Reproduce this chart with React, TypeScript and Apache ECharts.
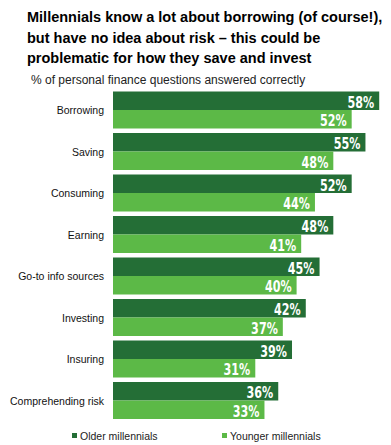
import React, { useEffect, useRef } from "react";
import * as echarts from "echarts";

const categories = [
  "Borrowing",
  "Saving",
  "Consuming",
  "Earning",
  "Go-to info sources",
  "Investing",
  "Insuring",
  "Comprehending risk",
];
const olderValues = [58, 55, 52, 48, 45, 42, 39, 36];
const youngerValues = [52, 48, 44, 41, 40, 37, 31, 33];
const seriesNames = ["Older millennials", "Younger millennials"];
const titleText =
  "Millennials know a lot about borrowing (of course!),\nbut have no idea about risk \u2013 this could be\nproblematic for how they save and invest";
const subtitleText = "% of personal finance questions answered correctly";

const DARK = "#246E36";
const LIGHT = "#5CB947";
const FONT = "Arial, 'Liberation Sans', sans-serif";
const CAT_GAP = 0.11;

function labelSeries(values: number[], which: number) {
  return {
    type: "custom",
    z: 10,
    silent: true,
    data: values.map((v, i) => [v, i]),
    encode: { x: 0, y: 1 },
    renderItem: (params: any, api: any) => {
      const v = api.value(0);
      const idx = api.value(1);
      const pt = api.coord([v, idx]);
      const band = api.size([0, 1])[1];
      const barW = (band * (1 - CAT_GAP)) / 2;
      const cy = pt[1] + (which === 0 ? -barW / 2 : barW / 2);
      return {
        type: "text",
        x: pt[0] - 5,
        y: cy + 1,
        scaleX: 0.72,
        style: {
          text: v + "%",
          fill: "#ffffff",
          fontFamily: "'DejaVu Sans', sans-serif",
          fontWeight: "bold",
          fontSize: 15.5,
          align: "right",
          verticalAlign: "middle",
        },
      };
    },
  };
}

export default function App() {
  const ref = useRef<HTMLDivElement>(null);
  useEffect(() => {
    if (!ref.current) return;
    const chart = echarts.init(ref.current, null, { renderer: "svg" });
    chart.setOption({
      animation: false,
      backgroundColor: "#ffffff",
      textStyle: { fontFamily: FONT },
      title: [
        {
          text: titleText,
          left: 27,
          top: 7,
          padding: 0,
          textStyle: {
            fontSize: 14.5,
            fontWeight: "bold",
            color: "#000",
            lineHeight: 20.5,
            fontFamily: FONT,
          },
        },
        {
          text: subtitleText,
          left: 31,
          top: 73.5,
          padding: 0,
          textStyle: {
            fontSize: 12,
            fontWeight: "normal",
            color: "#222",
            fontFamily: FONT,
          },
        },
      ],
      legend: [
        {
          data: [seriesNames[0]],
          left: 72,
          top: 430,
          padding: 0,
          icon: "rect",
          itemWidth: 5,
          itemHeight: 5,
          itemGap: 0,
          textStyle: { fontSize: 10.5, color: "#222", fontFamily: FONT, padding: [0, 0, 0, -2] },
        },
        {
          data: [seriesNames[1]],
          left: 222,
          top: 430,
          padding: 0,
          icon: "rect",
          itemWidth: 5,
          itemHeight: 5,
          itemGap: 0,
          textStyle: { fontSize: 10.5, color: "#222", fontFamily: FONT, padding: [0, 0, 0, -2] },
        },
      ],
      grid: { left: 113, top: 89.3, width: 275.4, height: 332 },
      xAxis: {
        type: "value",
        min: 0,
        max: 60,
        show: false,
        splitLine: { show: false },
      },
      yAxis: {
        type: "category",
        data: categories,
        inverse: true,
        axisLine: { show: false },
        axisTick: { show: false },
        axisLabel: { fontSize: 10.5, color: "#111", margin: 9, fontFamily: FONT },
      },
      series: [
        {
          name: seriesNames[0],
          type: "bar",
          data: olderValues,
          itemStyle: { color: DARK },
          barGap: "0%",
          barCategoryGap: "11%",
        },
        {
          name: seriesNames[1],
          type: "bar",
          data: youngerValues,
          itemStyle: { color: LIGHT },
          barGap: "0%",
          barCategoryGap: "11%",
        },
        labelSeries(olderValues, 0),
        labelSeries(youngerValues, 1),
      ],
    });
    return () => chart.dispose();
  }, []);
  return (
    <div
      ref={ref}
      style={{ position: "absolute", left: 0, top: 0, width: 391, height: 445 }}
    />
  );
}
